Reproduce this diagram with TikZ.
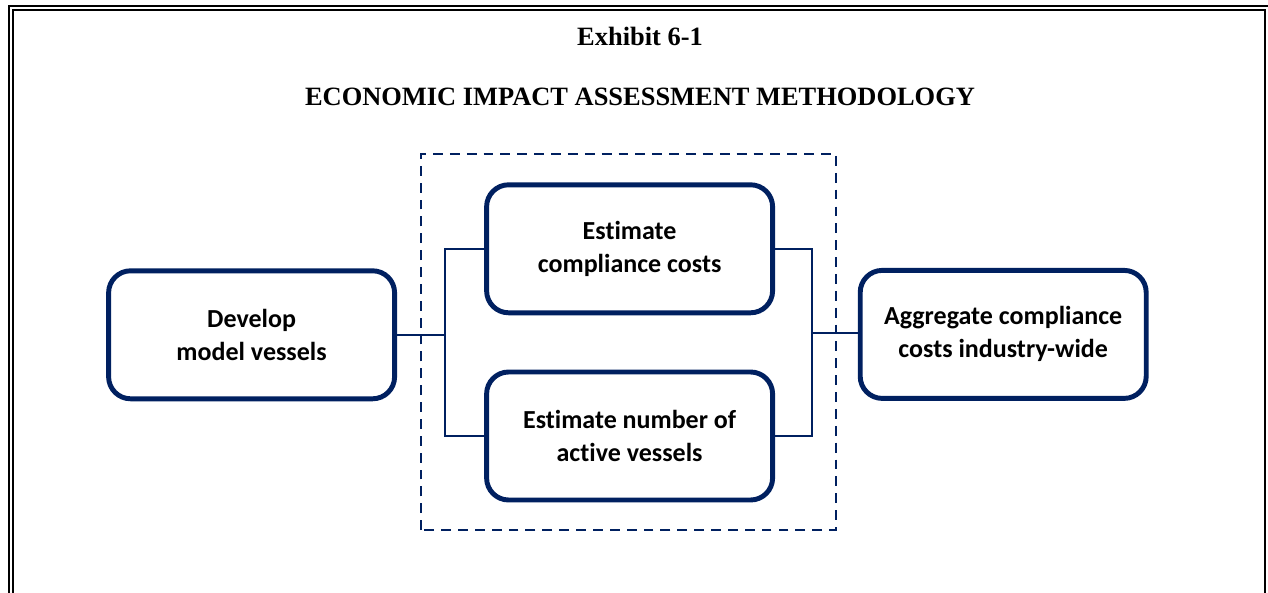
\documentclass[tikz,border=0pt]{standalone}
\usepackage{fontspec}
\setmainfont{Liberation Serif}
\newfontfamily\boxfont[Ligatures=NoCommon]{Carlito}
\definecolor{navy}{RGB}{0,32,96}

\begin{document}
\begin{tikzpicture}[
	stage/.style={draw=navy, line width=3.5pt, rounded corners=0.55cm, fill=white,
		minimum width=7.15cm, minimum height=3.2cm, align=center,
		font=\boxfont\bfseries\fontsize{18.5}{23.5}\selectfont},
	link/.style={navy, line width=1.1pt},
	fork/.style={navy, line width=1.8pt},
	heading/.style={anchor=base, font=\bfseries\fontsize{18.8}{22}\selectfont},
]
\useasboundingbox (0,0) rectangle (31.7,14.8);
% double rule round the page
\draw[line width=1.4pt] (0.225,-0.2) rectangle (31.8,14.65);
\draw[line width=1.4pt] (0.325,-0.1) rectangle (31.63,14.55);

\node[heading] (num) at (16,13.65) {Exhibit 6-1};
\node[heading] (title) at (16,12.15) {ECONOMIC IMPACT ASSESSMENT METHODOLOGY};

% the two estimates run side by side
\draw[navy, line width=1.4pt, dash pattern=on 7pt off 5pt] (10.525,1.55) rectangle (20.9,10.95);

\node[stage] (dev) at (6.29,6.43) {Develop\\ model vessels};
\node[stage] (cost) at (15.74,8.58) {Estimate\\ compliance costs};
\node[stage] (count) at (15.74,3.9) {Estimate number of\\ active vessels};
\node[stage] (agg) at (25.08,6.44) {Aggregate compliance\\ costs industry-wide};

\coordinate (jl) at (11.125,6.475);
\coordinate (jr) at (20.3,6.475);
\draw[fork] (cost.west) -| (jl) |- (count.west);
\draw[fork] (cost.east) -| (jr) |- (count.east);
\draw[link] (dev.east) -- (dev.east -| jl);
\draw[link] (jr) -- (jr -| agg.west);
\end{tikzpicture}
\end{document}
